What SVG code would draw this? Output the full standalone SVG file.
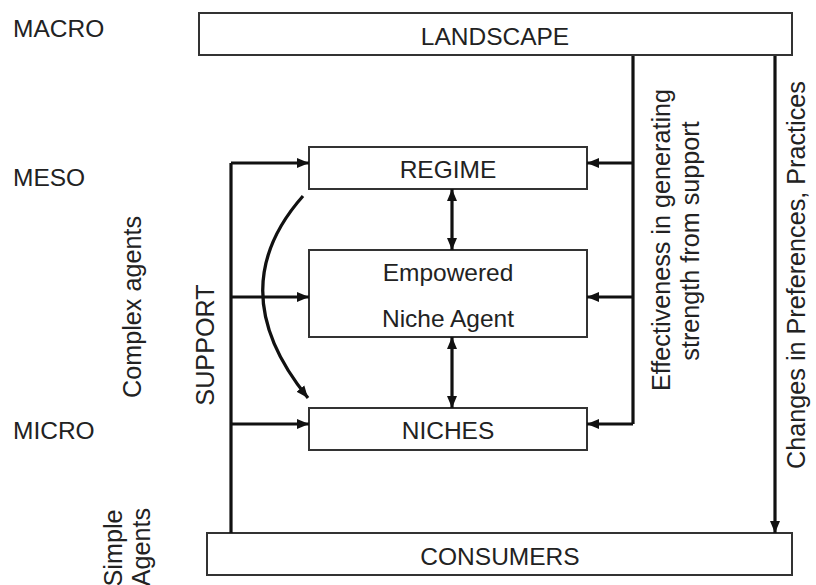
<svg xmlns="http://www.w3.org/2000/svg" width="816" height="585" viewBox="0 0 816 585">
<defs>
<marker id="ah" markerUnits="userSpaceOnUse" markerWidth="13" markerHeight="11" refX="12" refY="5.5" orient="auto-start-reverse">
<path d="M0,0.5 L12,5.5 L0,10.5 z" fill="#111"/>
</marker>
<style>
text{font-family:"Liberation Sans",Arial,sans-serif;font-size:24.5px;fill:#222}
.v{font-size:25.2px}
.box{fill:#fff;stroke:#333;stroke-width:2}
.c{fill:none;stroke:#111;stroke-width:3.2}
.m{text-anchor:middle}
</style>
</defs>
<rect width="816" height="585" fill="#fff"/>
<g id="labels">
<text x="13" y="37">MACRO</text>
<text x="13" y="186">MESO</text>
<text x="13" y="439">MICRO</text>
<text class="m v" transform="translate(141,307) rotate(-90)">Complex agents</text>
<text class="m v" transform="translate(214,345) rotate(-90)">SUPPORT</text>
<text class="m v" transform="translate(122,548) rotate(-90)">Simple</text>
<text class="m v" transform="translate(150,547) rotate(-90)">Agents</text>
<text class="m v" transform="translate(670,240) rotate(-90)">Effectiveness in generating</text>
<text class="m v" transform="translate(699,241) rotate(-90)">strength from support</text>
<text class="m v" transform="translate(805,275) rotate(-90)">Changes in Preferences, Practices</text>
</g>
<g id="landscape">
<rect class="box" x="199" y="13" width="593" height="42"/>
<text class="m" x="495" y="45">LANDSCAPE</text>
</g>
<g id="regime">
<rect class="box" x="309" y="147" width="278" height="42"/>
<text class="m" x="448" y="178">REGIME</text>
</g>
<g id="niche-agent">
<rect class="box" x="309" y="250" width="278" height="87"/>
<text class="m" x="448" y="281">Empowered</text>
<text class="m" x="448" y="327">Niche Agent</text>
</g>
<g id="niches">
<rect class="box" x="309" y="408" width="278" height="42"/>
<text class="m" x="448" y="439">NICHES</text>
</g>
<g id="consumers">
<rect class="box" x="207" y="533" width="585" height="42"/>
<text class="m" x="500" y="565">CONSUMERS</text>
</g>
<g id="connectors">
<path class="c" d="M231,533 V163"/>
<path class="c" d="M231,163 H309" marker-end="url(#ah)"/>
<path class="c" d="M231,297 H309" marker-end="url(#ah)"/>
<path class="c" d="M231,424 H309" marker-end="url(#ah)"/>
<path class="c" d="M633,56 V424"/>
<path class="c" d="M633,163 H587" marker-end="url(#ah)"/>
<path class="c" d="M633,297 H587" marker-end="url(#ah)"/>
<path class="c" d="M633,424 H587" marker-end="url(#ah)"/>
<path class="c" d="M452,189 V250" marker-start="url(#ah)" marker-end="url(#ah)"/>
<path class="c" d="M452,337 V408" marker-start="url(#ah)" marker-end="url(#ah)"/>
<path class="c" d="M303,196 Q220,290 308,398" marker-end="url(#ah)"/>
<path class="c" d="M775,56 V533" marker-end="url(#ah)"/>
</g>
</svg>
